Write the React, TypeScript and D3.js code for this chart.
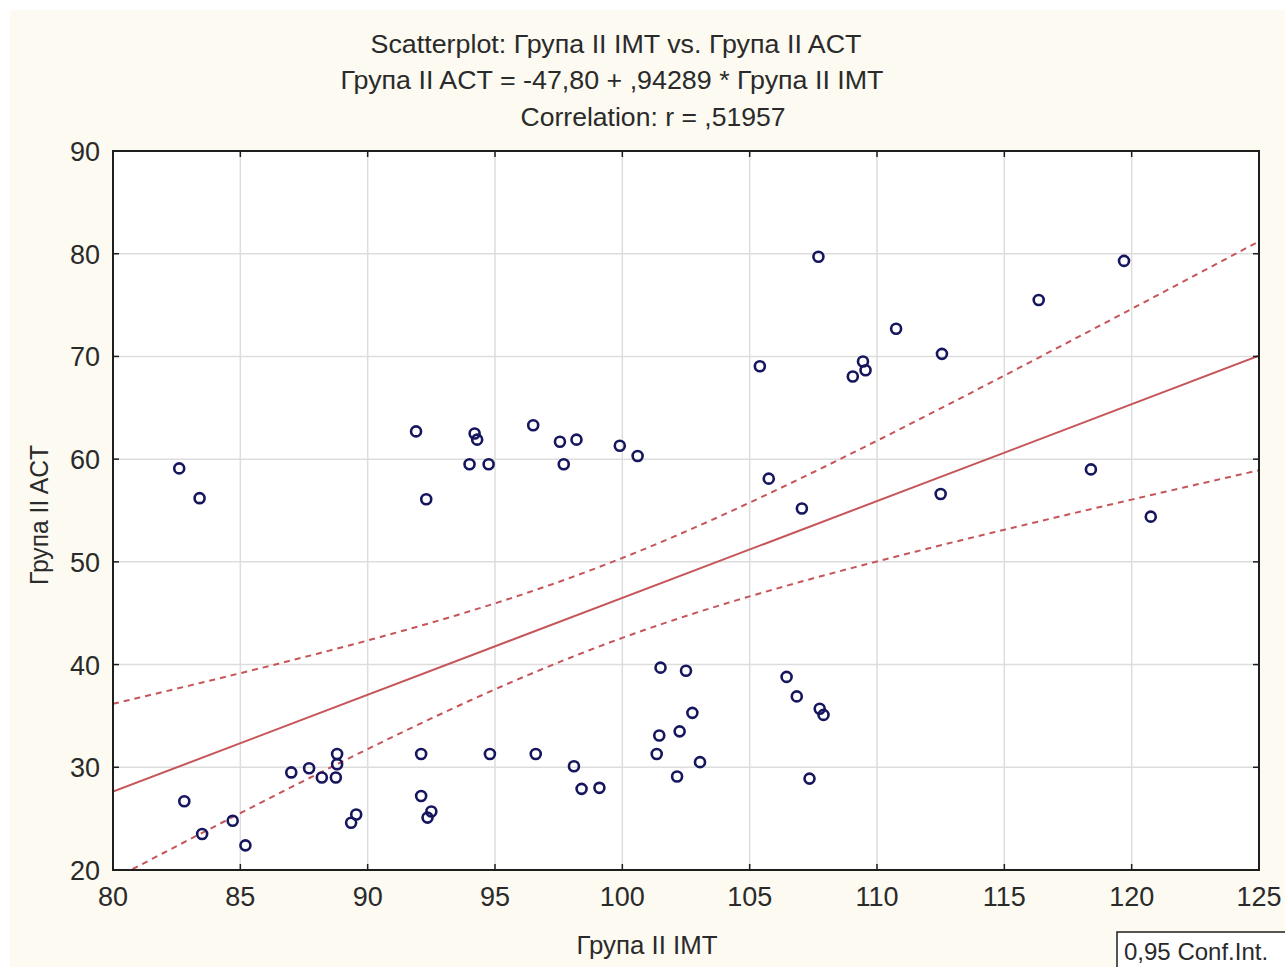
import React from "react";
import * as d3 from "d3";

// Група II: IMT (x) vs ACT (y)
const imtValues = [
  82.6, 83.4, 82.8, 83.5, 84.7, 85.2, 87.0, 87.7, 88.2, 88.8, 88.8, 88.75, 89.35, 89.55,
  92.1, 92.1, 92.35, 92.5, 91.9, 92.3, 94.2, 94.3, 94.0, 94.75, 96.5, 97.55, 98.2, 97.7,
  99.9, 100.6, 94.8, 96.6, 98.1, 98.4, 99.1, 101.5, 102.5, 102.75, 101.45, 102.25, 101.35,
  103.05, 102.15, 105.75, 107.05, 106.45, 106.85, 107.75, 107.9, 107.35, 107.7, 119.7,
  116.35, 110.75, 112.55, 109.45, 109.55, 109.05, 105.4, 112.5, 118.4, 120.75,
];
const actValues = [
  59.1, 56.2, 26.7, 23.5, 24.8, 22.4, 29.5, 29.9, 29.0, 31.3, 30.3, 29.0, 24.6, 25.4,
  31.3, 27.2, 25.1, 25.7, 62.7, 56.1, 62.5, 61.9, 59.5, 59.5, 63.3, 61.7, 61.9, 59.5,
  61.3, 60.3, 31.3, 31.3, 30.1, 27.9, 28.0, 39.7, 39.4, 35.3, 33.1, 33.5, 31.3,
  30.5, 29.1, 58.1, 55.2, 38.8, 36.9, 35.7, 35.1, 28.9, 79.7, 79.3,
  75.5, 72.7, 70.25, 69.5, 68.65, 68.05, 69.05, 56.6, 59.0, 54.4,
];

// Fitted line as reported in the heading
const intercept = -47.8;
const slope = 0.94289;
const correlation = 0.51957;
const confLevel = 0.95;
const tCrit = 2.0003; // t(0.975, df = 60)

const xTicks = [80, 85, 90, 95, 100, 105, 110, 115, 120, 125];
const yTicks = [20, 30, 40, 50, 60, 70, 80, 90];

const titleLines = [
  "Scatterplot: Група II IMT vs. Група II ACT",
  "Група II ACT = -47,80 + ,94289 * Група II IMT",
  "Correlation: r = ,51957",
];

const W = 1285;
const H = 967;
const M = { left: 113, right: 1259, top: 151, bottom: 870 };

const fmtComma = (v: number) => String(v).replace(".", ",");

export default function App() {
  const x = d3.scaleLinear().domain([80, 125]).range([M.left, M.right]);
  const y = d3.scaleLinear().domain([20, 90]).range([M.bottom, M.top]);

  // Confidence band for the mean response
  const n = imtValues.length;
  const xbar = d3.mean(imtValues) as number;
  const sxx = d3.sum(imtValues, (v) => (v - xbar) ** 2);
  const sse = d3.sum(imtValues, (v, i) => (actValues[i] - (intercept + slope * v)) ** 2);
  const s = Math.sqrt(sse / (n - 2));
  const band = d3.range(80, 125.001, 0.5).map((xv) => {
    const fit = intercept + slope * xv;
    const hw = tCrit * s * Math.sqrt(1 / n + (xv - xbar) ** 2 / sxx);
    return { xv, lo: fit - hw, hi: fit + hw };
  });
  const line = d3
    .line<[number, number]>()
    .x((d) => x(d[0]))
    .y((d) => y(d[1]));
  const upperPath = line(band.map((b) => [b.xv, b.hi]));
  const lowerPath = line(band.map((b) => [b.xv, b.lo]));
  const fitPath = line([
    [80, intercept + slope * 80],
    [125, intercept + slope * 125],
  ]);

  const red = "#c65559";
  const navy = "#16165e";
  const textColor = "#2a2a2a";
  const narrow = "'Liberation Sans Narrow', 'Liberation Sans', Arial, sans-serif";
  const sans = "'Liberation Sans', Arial, sans-serif";
  const tick = 6;

  return (
    <svg
      width={W}
      height={H}
      style={{ position: "absolute", left: 0, top: 0 }}
      data-r={correlation}
    >
      <defs>
        <clipPath id="plotClip">
          <rect x={M.left} y={M.top} width={M.right - M.left} height={M.bottom - M.top} />
        </clipPath>
      </defs>
      <rect x={0} y={0} width={W} height={H} fill="#ffffff" />
      <rect x={10} y={10} width={W - 10} height={H - 10} fill="#fcfaf1" />
      <rect
        x={M.left}
        y={M.top}
        width={M.right - M.left}
        height={M.bottom - M.top}
        fill="#ffffff"
      />

      {/* grid */}
      {xTicks.slice(1, -1).map((t) => (
        <line key={"gx" + t} x1={x(t)} x2={x(t)} y1={M.top} y2={M.bottom} stroke="#dddddd" strokeWidth={1.5} />
      ))}
      {yTicks.slice(1, -1).map((t) => (
        <line key={"gy" + t} x1={M.left} x2={M.right} y1={y(t)} y2={y(t)} stroke="#dddddd" strokeWidth={1.5} />
      ))}

      {/* regression and confidence band */}
      <g clipPath="url(#plotClip)" fill="none" stroke={red}>
        <path d={fitPath ?? ""} strokeWidth={2} />
        <path d={upperPath ?? ""} strokeWidth={2} strokeDasharray="6,5" />
        <path d={lowerPath ?? ""} strokeWidth={2} strokeDasharray="6,5" />
      </g>

      {/* points */}
      <g fill="none" stroke={navy} strokeWidth={2.6}>
        {imtValues.map((v, i) => (
          <circle key={i} cx={x(v)} cy={y(actValues[i])} r={5} />
        ))}
      </g>

      {/* frame and inward ticks */}
      <rect
        x={M.left}
        y={M.top}
        width={M.right - M.left}
        height={M.bottom - M.top}
        fill="none"
        stroke="#1e1e1e"
        strokeWidth={2}
      />
      <g stroke="#1e1e1e" strokeWidth={1.5}>
        {xTicks.map((t) => (
          <g key={"tx" + t}>
            <line x1={x(t)} x2={x(t)} y1={M.bottom} y2={M.bottom - tick} />
            <line x1={x(t)} x2={x(t)} y1={M.top} y2={M.top + tick} />
          </g>
        ))}
        {yTicks.map((t) => (
          <g key={"ty" + t}>
            <line x1={M.left} x2={M.left + tick} y1={y(t)} y2={y(t)} />
            <line x1={M.right} x2={M.right - tick} y1={y(t)} y2={y(t)} />
          </g>
        ))}
      </g>

      {/* tick labels */}
      <g fill={textColor} fontFamily={sans} fontSize={27}>
        {xTicks.map((t) => (
          <text key={"lx" + t} x={x(t)} y={M.bottom + 36} textAnchor="middle">
            {t}
          </text>
        ))}
        {yTicks.map((t) => (
          <text key={"ly" + t} x={M.left - 13} y={y(t) + 10} textAnchor="end">
            {t}
          </text>
        ))}
      </g>

      {/* titles */}
      <g fill={textColor} fontFamily={narrow} fontSize={25} textAnchor="middle">
        <text x={616} y={53} textLength={491} lengthAdjust="spacingAndGlyphs">
          {titleLines[0]}
        </text>
        <text x={612} y={89} textLength={543} lengthAdjust="spacingAndGlyphs">
          {titleLines[1]}
        </text>
        <text x={653} y={126} textLength={265} lengthAdjust="spacingAndGlyphs">
          {titleLines[2]}
        </text>
        <text x={647} y={954} textLength={141} lengthAdjust="spacingAndGlyphs">
          Група II IMT
        </text>
        <text
          transform="translate(48,515) rotate(-90)"
          textLength={140}
          lengthAdjust="spacingAndGlyphs"
        >
          Група II ACT
        </text>
      </g>

      {/* legend */}
      <rect x={1117} y={932} width={180} height={50} fill="#ffffff" stroke="#1e1e1e" strokeWidth={1.5} />
      <text x={1124} y={960} fill={textColor} fontFamily={sans} fontSize={24}>
        {fmtComma(confLevel)} Conf.Int.
      </text>
    </svg>
  );
}
